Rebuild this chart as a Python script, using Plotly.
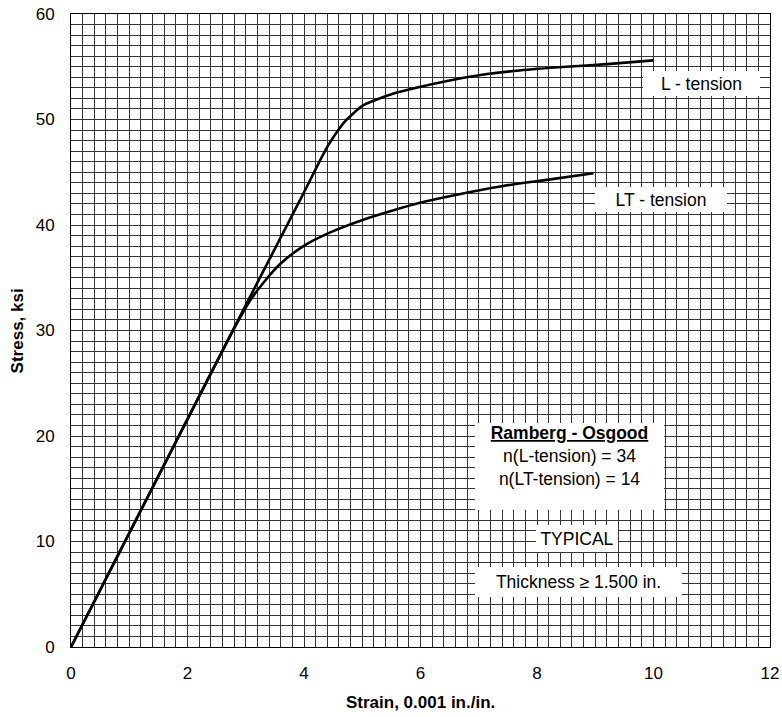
import plotly.graph_objects as go

# L-tension curve (strain 0.001 in./in., stress ksi)
l_strain = [0, 1, 2, 3, 4, 4.2, 4.4, 4.55, 4.7, 4.85, 5.0, 5.25, 5.5, 6.0, 6.5, 7.0, 7.7, 8.5, 9.2, 10.0]
l_stress = [0, 10.8, 21.6, 32.4, 43.1, 45.3, 47.4, 48.7, 49.8, 50.6, 51.3, 51.9, 52.4, 53.1, 53.7, 54.2, 54.65, 55.0, 55.25, 55.6]

# LT-tension curve
lt_strain = [0, 1, 2, 2.8, 2.9, 3.07, 3.3, 3.59, 3.99, 4.45, 5.02, 5.48, 5.99, 6.56, 7.42, 8.2, 8.97]
lt_stress = [0, 10.8, 21.6, 30.2, 31.2, 32.8, 34.5, 36.3, 38.0, 39.3, 40.5, 41.3, 42.1, 42.8, 43.7, 44.3, 44.9]

x_ticks = [0, 2, 4, 6, 8, 10, 12]
y_ticks = [0, 10, 20, 30, 40, 50, 60]

FONT = "Liberation Sans, Arial, sans-serif"
GRID = "#363636"

fig = go.Figure()
fig.add_trace(go.Scatter(x=l_strain, y=l_stress, mode="lines",
                         line=dict(color="black", width=2.6, shape="spline", smoothing=0.8),
                         showlegend=False, hoverinfo="skip"))
fig.add_trace(go.Scatter(x=lt_strain, y=lt_stress, mode="lines",
                         line=dict(color="black", width=2.6, shape="spline", smoothing=0.8),
                         showlegend=False, hoverinfo="skip"))

ann_font = dict(family=FONT, size=17.5, color="black")
annotations = [
    dict(x=10.82, y=53.4, text="L - tension", width=117, height=25),
    dict(x=10.13, y=42.4, text="LT - tension", width=132, height=25),
    dict(x=8.69, y=10.3, text="TYPICAL", width=82, height=27),
    dict(x=8.71, y=6.17, text="Thickness \u2265 1.500 in.", width=207, height=30),
]
for a in annotations:
    fig.add_annotation(xref="x", yref="y", showarrow=False, bgcolor="white",
                       borderpad=0, borderwidth=0, font=ann_font,
                       xanchor="center", yanchor="middle", **a)

fig.add_annotation(xref="x", yref="y", x=8.56, y=17.13, showarrow=False,
                   bgcolor="white", borderpad=0, borderwidth=0, font=ann_font,
                   width=189, height=87, valign="top", align="center",
                   text="<b><u>Ramberg - Osgood</u></b><br>n(L-tension) = 34<br>n(LT-tension) = 14")

# axis titles
title_font = dict(family=FONT, size=17, color="black")
fig.add_annotation(xref="paper", yref="paper", x=0.5, y=-0.087, showarrow=False,
                   xanchor="center", yanchor="middle", font=title_font,
                   text="<b>Strain, 0.001 in./in.</b>")
fig.add_annotation(xref="paper", yref="paper", x=-0.076, y=0.5, showarrow=False,
                   xanchor="center", yanchor="middle", textangle=-90, font=title_font,
                   text="<b>Stress, ksi</b>")

axis_common = dict(showline=True, linecolor="black", linewidth=1, mirror=True,
                   showgrid=True, gridcolor=GRID, gridwidth=1, zeroline=False,
                   automargin=False, ticklabeloverflow="allow",
                   ticks="", tickfont=dict(family=FONT, size=17, color="black"))

fig.update_xaxes(range=[0, 12], tickvals=x_ticks, ticktext=[str(v) for v in x_ticks],
                 minor=dict(dtick=0.2, showgrid=True, gridcolor=GRID, gridwidth=1),
                 ticklabelstandoff=11, **axis_common)
fig.update_yaxes(range=[0, 60], tickvals=y_ticks, ticktext=[str(v) for v in y_ticks],
                 minor=dict(dtick=1, showgrid=True, gridcolor=GRID, gridwidth=1),
                 ticklabelstandoff=12, **axis_common)

fig.update_layout(width=782, height=717, margin=dict(l=71, r=12, t=14, b=70),
                  plot_bgcolor="white", paper_bgcolor="white")

fig.write_html("out.html", config={"displayModeBar": False},
               post_script="document.body.style.margin='0';")
